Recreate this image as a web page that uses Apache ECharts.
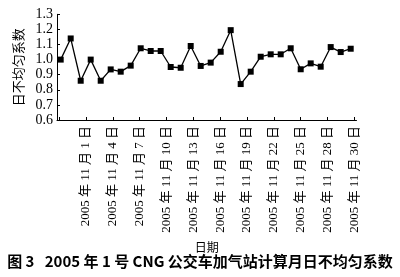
<!DOCTYPE html>
<html>
<head>
<meta charset="utf-8">
<script src="https://cdn.jsdelivr.net/npm/echarts@6/dist/echarts.min.js"></script>
<style>html,body{margin:0;padding:0;background:#fff;}#c{width:400px;height:277px;}</style>
</head>
<body>
<div id="c"></div>
<script>
var days = [1,2,3,4,5,6,7,8,9,10,11,12,13,14,15,16,17,18,19,20,21,22,23,24,25,26,27,28,29,30];
var coeff = [1.00,1.14,0.86,1.00,0.86,0.935,0.92,0.96,1.075,1.057,1.057,0.951,0.946,1.09,0.958,0.98,1.052,1.195,0.838,0.92,1.019,1.035,1.035,1.075,0.936,0.975,0.953,1.083,1.05,1.072];
var tickLabels = ['', '2005 年 11 月 1 日','2005 年 11 月 4 日','2005 年 11 月 7 日','2005 年 11 月 10 日','2005 年 11 月 13 日','2005 年 11 月 16 日','2005 年 11 月 19 日','2005 年 11 月 22 日','2005 年 11 月 25 日','2005 年 11 月 28 日','2005 年 11 月 30 日'];
var yTicks = [0.6,0.7,0.8,0.9,1.0,1.1,1.2,1.3];
var yName = '日不均匀系数';
var xName = '日期';
var caption = '图 3   2005 年 1 号 CNG 公交车加气站计算月日不均匀系数';

var serif = '"Liberation Serif", "Noto Sans CJK SC", serif';
var chart = echarts.init(document.getElementById('c'), null, {renderer: 'canvas'});
chart.setOption({
  animation: false,
  backgroundColor: '#fff',
  title: {
    text: caption,
    left: 'center',
    top: 249,
    textStyle: {fontFamily: '"Noto Sans CJK SC", sans-serif', fontSize: 15, fontWeight: 'bold', color: '#000'}
  },
  grid: [
    {left: 57, right: 43.5, top: 14.3, bottom: 157},
    {left: 59.2, width: 295.2, top: 14.3, bottom: 157}
  ],
  xAxis: [
    {
      type: 'value', gridIndex: 0, min: 0.63, max: 30.58,
      axisLine: {show: true, lineStyle: {color: '#000', width: 1}},
      axisTick: {show: false}, axisLabel: {show: false}, splitLine: {show: false}
    },
    {
      type: 'category', gridIndex: 1, data: tickLabels, boundaryGap: false,
      axisLine: {show: false},
      axisTick: {show: true, inside: true, length: 3, lineStyle: {color: '#000'}},
      axisLabel: {rotate: 90, margin: 6, fontSize: 13, fontFamily: serif, color: '#000', interval: 0},
      name: xName, nameLocation: 'middle', nameGap: 121,
      nameTextStyle: {fontFamily: '"Noto Sans CJK SC", sans-serif', fontSize: 12, color: '#000'}
    }
  ],
  yAxis: [
    {
      type: 'value', gridIndex: 0, min: yTicks[0], max: yTicks[yTicks.length-1], interval: 0.1,
      axisLine: {show: true, lineStyle: {color: '#000', width: 1}},
      axisTick: {show: true, inside: true, length: 3, lineStyle: {color: '#000'}},
      axisLabel: {fontSize: 14, fontFamily: serif, color: '#000', margin: 4,
        formatter: function(v){ return v.toFixed(1); }},
      splitLine: {show: false},
      name: yName, nameLocation: 'middle', nameGap: 31, nameRotate: 90,
      nameTextStyle: {fontFamily: '"Noto Sans CJK SC", sans-serif', fontSize: 13, color: '#000'}
    },
    {
      type: 'value', gridIndex: 1, show: false, min: 0, max: 1
    }
  ],
  series: [{
    type: 'line', xAxisIndex: 0, yAxisIndex: 0,
    data: days.map(function(d, i){ return [d, coeff[i]]; }),
    symbol: 'rect', symbolSize: 6,
    lineStyle: {color: '#000', width: 1.3},
    itemStyle: {color: '#000'}
  }]
});
</script>
</body>
</html>
